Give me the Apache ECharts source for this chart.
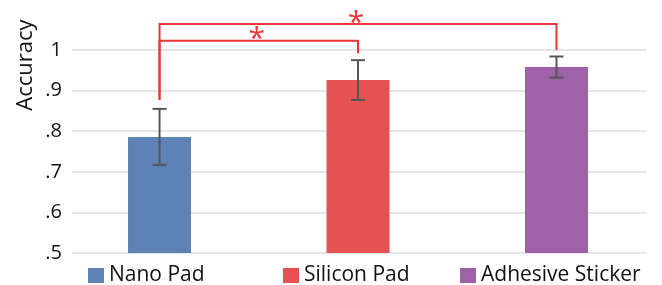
<!DOCTYPE html>
<html>
<head>
<meta charset="utf-8">
<script src="https://cdn.jsdelivr.net/npm/echarts@6/dist/echarts.min.js"></script>
<style>
  html, body { margin: 0; padding: 0; background: #fff; }
  #main { width: 662px; height: 285px; }
</style>
</head>
<body>
<div id="main"></div>
<script>
// data
var categories = ['Nano Pad', 'Silicon Pad', 'Adhesive Sticker'];
var means = [0.786, 0.926, 0.958];
var errLow = [0.717, 0.877, 0.932];
var errHigh = [0.855, 0.975, 0.984];
var colors = ['#5d82b3', '#e45252', '#9d62a8'];
var yTicks = [0.5, 0.6, 0.7, 0.8, 0.9, 1];
// significance brackets: from, to, bracket level, leg end at "from", leg end at "to"
var brackets = [
    [0, 1, 1.023, 0.877, 0.992],
    [0, 2, 1.064, 0.877, 1.0]
];
var legendLeft = [88, 283, 460];

var font = '"Open Sans"';
var myChart = echarts.init(document.getElementById('main'));

var series = [];
categories.forEach(function (name, i) {
    series.push({
        name: name,
        type: 'bar',
        barWidth: 63,
        barGap: '-100%',
        itemStyle: { color: colors[i] },
        data: [[i, means[i]]]
    });
});

// error bars
series.push({
    type: 'custom',
    silent: true,
    data: categories.map(function (c, i) { return [i, errLow[i], errHigh[i]]; }),
    renderItem: function (params, api) {
        var lo = api.coord([api.value(0), api.value(1)]);
        var hi = api.coord([api.value(0), api.value(2)]);
        var cap = 7;
        var st = { stroke: '#575757', lineWidth: 2 };
        return {
            type: 'group',
            children: [
                { type: 'line', shape: { x1: lo[0], y1: lo[1], x2: hi[0], y2: hi[1] }, style: st },
                { type: 'line', shape: { x1: lo[0] - cap, y1: lo[1], x2: lo[0] + cap, y2: lo[1] }, style: st },
                { type: 'line', shape: { x1: hi[0] - cap, y1: hi[1], x2: hi[0] + cap, y2: hi[1] }, style: st }
            ]
        };
    },
    z: 5
});

// significance brackets with stars
series.push({
    type: 'custom',
    silent: true,
    clip: false,
    data: brackets,
    renderItem: function (params, api) {
        var a = api.coord([api.value(0), api.value(3)]);
        var b = api.coord([api.value(0), api.value(2)]);
        var c = api.coord([api.value(1), api.value(2)]);
        var d = api.coord([api.value(1), api.value(4)]);
        return {
            type: 'group',
            children: [
                {
                    type: 'polyline',
                    shape: { points: [a, b, c, d] },
                    style: { stroke: '#ee3535', lineWidth: 2, fill: null }
                },
                {
                    type: 'text',
                    x: (b[0] + c[0]) / 2 - 2,
                    y: b[1] - 16,
                    style: {
                        text: '*', fill: '#ee3535', font: '30px ' + font,
                        align: 'center', verticalAlign: 'top'
                    }
                }
            ]
        };
    },
    z: 6
});

var legends = categories.map(function (name, i) {
    return {
        data: [name],
        left: legendLeft[i],
        top: 264,
        padding: 0,
        icon: 'rect',
        itemWidth: 16,
        itemHeight: 15,
        selectedMode: false,
        textStyle: { fontFamily: font, fontSize: 21, color: '#111', lineHeight: 23, padding: [0, 0, 0, 0] }
    };
});

myChart.setOption({
    animation: false,
    textStyle: { fontFamily: font },
    grid: { left: 72, right: 15, top: 50, bottom: 32 },
    legend: legends,
    xAxis: {
        type: 'value',
        min: -0.441,
        max: 2.456,
        show: false
    },
    yAxis: {
        type: 'value',
        min: yTicks[0],
        max: yTicks[yTicks.length - 1],
        interval: 0.1,
        axisLine: { show: false },
        axisTick: { show: false },
        splitLine: { lineStyle: { color: '#dcdcdc', width: 1.5 } },
        axisLabel: {
            margin: 10,
            fontFamily: font,
            fontSize: 20,
            color: '#111',
            formatter: function (v) {
                var s = String(Math.round(v * 10) / 10);
                return s.replace(/^0/, '');
            }
        }
    },
    graphic: [{
        type: 'text',
        x: 26,
        y: 65,
        rotation: Math.PI / 2,
        style: {
            text: 'Accuracy', font: '22px ' + font, fill: '#111',
            align: 'center', verticalAlign: 'middle'
        }
    }],
    series: series
});
</script>
</body>
</html>
